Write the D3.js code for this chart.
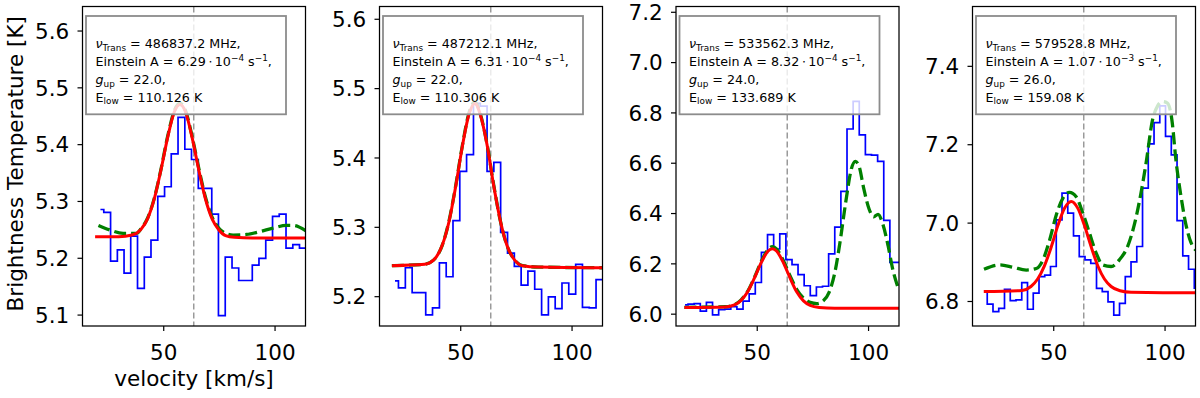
<!DOCTYPE html>
<html><head><meta charset="utf-8">
<script src="https://cdn.jsdelivr.net/npm/d3@7"></script>
<style>
html,body{margin:0;padding:0;background:#fff;}
svg{display:block;font-family:"DejaVu Sans",sans-serif;}
</style></head><body>
<svg id="chart" width="1200" height="398"></svg>
<script>
// ---------- data ----------
const xTicks = [50, 100];
const systemicV = 63.7;

// panel 1
const chanV1 = [21.8, 24.8, 27.9, 30.9, 33.9, 36.9, 40.0, 43.0, 46.0, 49.1, 52.1, 55.1, 58.2, 61.2, 64.2, 67.3, 70.3, 73.3, 76.3, 79.4, 82.4, 85.4, 88.5, 91.5, 94.5, 97.6, 100.6, 103.6, 106.7, 109.7, 112.7, 115.7];
const obsT1 = [5.285, 5.280, 5.194, 5.214, 5.173, 5.238, 5.146, 5.201, 5.231, 5.308, 5.325, 5.383, 5.447, 5.391, 5.373, 5.322, 5.322, 5.277, 5.098, 5.201, 5.182, 5.160, 5.160, 5.187, 5.199, 5.231, 5.273, 5.277, 5.217, 5.223, 5.217, 5.217];
const fitV1 = [19.4, 30, 36, 40, 43, 46, 49, 52, 55, 57.5, 60, 63, 66, 69, 72, 75, 78, 82, 90, 114];
const fitT1 = [5.237, 5.237, 5.240, 5.250, 5.269, 5.304, 5.355, 5.412, 5.457, 5.470, 5.457, 5.411, 5.354, 5.303, 5.268, 5.249, 5.239, 5.236, 5.235, 5.235];
const modV1 = [20.9, 26, 32, 38, 40, 43, 46, 49, 52, 55, 57.5, 60, 63, 66, 69, 72, 75, 78, 81.4, 87.4, 93.3, 99.3, 105.3, 108.2, 114.2];
const modT1 = [5.257, 5.249, 5.243, 5.243, 5.251, 5.270, 5.305, 5.356, 5.414, 5.459, 5.472, 5.459, 5.413, 5.357, 5.306, 5.271, 5.252, 5.243, 5.240, 5.241, 5.246, 5.252, 5.257, 5.257, 5.247];
const yTicks1 = [5.1, 5.2, 5.3, 5.4, 5.5, 5.6];

// panel 2
const chanV2 = [20.7, 23.8, 26.9, 29.9, 33.0, 36.0, 39.1, 42.2, 45.2, 48.3, 51.3, 54.4, 57.5, 60.5, 63.6, 66.6, 69.7, 72.8, 75.8, 78.9, 81.9, 85.0, 88.1, 91.1, 94.2, 97.2, 100.3, 103.4, 106.4, 109.5, 112.5, 115.6];
const obsT2 = [5.222, 5.212, 5.241, 5.205, 5.205, 5.173, 5.183, 5.248, 5.228, 5.309, 5.380, 5.404, 5.478, 5.474, 5.380, 5.393, 5.292, 5.262, 5.243, 5.216, 5.236, 5.210, 5.173, 5.199, 5.182, 5.219, 5.203, 5.246, 5.184, 5.183, 5.224, 5.224];
const fitV2 = [19.3, 34, 38, 42, 45, 48, 51, 54, 56.6, 59, 62, 65, 68, 71, 74, 78, 85, 114];
const fitT2 = [5.244, 5.246, 5.252, 5.274, 5.308, 5.359, 5.417, 5.463, 5.478, 5.462, 5.419, 5.360, 5.309, 5.273, 5.254, 5.244, 5.242, 5.241];
const modV2 = [19.3, 34, 38, 42, 45, 48, 51, 54, 56.6, 59, 62, 65, 68, 71, 74, 78, 85, 114];
const modT2 = [5.244, 5.246, 5.252, 5.274, 5.309, 5.360, 5.418, 5.465, 5.480, 5.463, 5.420, 5.361, 5.309, 5.273, 5.254, 5.244, 5.242, 5.241];
const yTicks2 = [5.2, 5.3, 5.4, 5.5, 5.6];

// panel 3
const chanV3 = [17.8, 20.5, 23.3, 26.0, 28.8, 31.5, 34.3, 37.0, 39.7, 42.5, 45.2, 48.0, 50.7, 53.5, 56.2, 59.0, 61.7, 64.5, 67.2, 69.9, 72.7, 75.4, 78.2, 80.9, 83.7, 86.4, 89.2, 91.9, 94.7, 97.4, 100.2, 102.9, 105.7, 108.4, 111.2, 113.9];
const obsT3 = [6.035, 6.038, 6.040, 6.010, 6.045, 5.995, 6.016, 6.018, 6.028, 6.018, 6.050, 6.079, 6.124, 6.244, 6.314, 6.257, 6.317, 6.215, 6.195, 6.155, 6.111, 6.072, 6.106, 6.109, 6.238, 6.344, 6.486, 6.734, 6.844, 6.711, 6.632, 6.630, 6.605, 6.371, 6.204, 6.204];
const fitV3 = [17.5, 36, 40, 43, 46, 49, 52, 55, 57, 59, 62, 65, 68, 71, 74, 78, 85, 114];
const fitT3 = [6.025, 6.027, 6.035, 6.053, 6.088, 6.142, 6.203, 6.248, 6.258, 6.248, 6.202, 6.141, 6.086, 6.051, 6.033, 6.025, 6.022, 6.022];
const modV3 = [17.5, 36, 40, 43, 46, 49, 52, 55, 57, 59, 62, 65, 68, 71, 74, 77, 80, 82.5, 85, 87.5, 90, 92.5, 94.3, 96, 98, 100.5, 102.5, 104.5, 106.5, 109, 111, 113.8];
const modT3 = [6.025, 6.028, 6.036, 6.055, 6.090, 6.145, 6.207, 6.254, 6.266, 6.256, 6.210, 6.150, 6.096, 6.062, 6.045, 6.040, 6.052, 6.085, 6.160, 6.290, 6.445, 6.575, 6.605, 6.585, 6.500, 6.415, 6.385, 6.395, 6.360, 6.270, 6.180, 6.095];
const yTicks3 = [6.0, 6.2, 6.4, 6.6, 6.8, 7.0, 7.2];

// panel 4
const chanV4 = [19.07, 21.65, 24.24, 26.82, 29.40, 31.99, 34.57, 37.15, 39.74, 42.32, 44.90, 47.49, 50.07, 52.65, 55.24, 57.82, 60.40, 62.98, 65.57, 68.15, 70.73, 73.32, 75.90, 78.48, 81.07, 83.65, 86.23, 88.82, 91.40, 93.98, 96.57, 99.15, 101.73, 104.32, 106.90, 109.48, 112.07, 114.65];
const obsT4 = [6.824, 6.792, 6.773, 6.781, 6.830, 6.801, 6.803, 6.847, 6.779, 6.820, 6.862, 6.866, 6.888, 7.007, 7.075, 7.024, 6.966, 6.913, 6.905, 6.896, 6.832, 6.824, 6.798, 6.764, 6.794, 6.862, 6.900, 6.939, 7.088, 7.201, 7.255, 7.298, 7.220, 7.173, 7.005, 6.915, 6.881, 6.833];
const fitV4 = [18.8, 36, 40, 43, 46, 49, 52, 55, 58.1, 61, 64, 67, 70, 73, 76, 80, 85, 114];
const fitT4 = [6.824, 6.827, 6.837, 6.856, 6.889, 6.936, 6.991, 7.036, 7.054, 7.037, 6.993, 6.939, 6.890, 6.856, 6.837, 6.826, 6.822, 6.821];
const modV4 = [18.9, 26.0, 31.9, 37.9, 42.4, 45.4, 48.4, 51.4, 54.3, 57.3, 60.3, 63.3, 66.3, 69.3, 72.2, 76.0, 79.7, 83.4, 86.4, 89.4, 91.7, 94.6, 96.9, 99.1, 101.3, 103.3, 105.1, 107.3, 109.6, 111.8, 114.0];
const modT4 = [6.881, 6.892, 6.886, 6.879, 6.883, 6.905, 6.956, 7.020, 7.062, 7.077, 7.066, 7.024, 6.973, 6.922, 6.892, 6.888, 6.905, 6.939, 6.994, 7.075, 7.152, 7.262, 7.298, 7.309, 7.305, 7.262, 7.160, 7.070, 6.995, 6.950, 6.930];
const yTicks4 = [6.8, 7.0, 7.2, 7.4];

// legend texts
const nuTrans = ["486837.2", "487212.1", "533562.3", "579528.8"];
const einsteinMant = ["6.29", "6.31", "8.32", "1.07"];
const einsteinExp = ["\u22124", "\u22124", "\u22124", "\u22123"];
const gUp = ["22.0", "22.0", "24.0", "26.0"];
const eLow = ["110.126", "110.306", "133.689", "159.08"];

const xLabel = "velocity [km/s]";
const yLabel = "Brightness Temperature [K]";

// ---------- layout ----------
const panelLeft = [82.5, 379.5, 676, 972.5];
const panelW = 223, plotTop = 6.5, plotBottom = 326;
const xDomain = [13.74, 113.9];
const yDomains = [[5.0799, 5.6423], [5.157, 5.6177], [5.951, 7.221], [6.7362, 7.5514]];
const tickFont = 21.5, legFont = 12.7;

const panels = [
  {chanV: chanV1, obsT: obsT1, fitV: fitV1, fitT: fitT1, modV: modV1, modT: modT1, yTicks: yTicks1},
  {chanV: chanV2, obsT: obsT2, fitV: fitV2, fitT: fitT2, modV: modV2, modT: modT2, yTicks: yTicks2},
  {chanV: chanV3, obsT: obsT3, fitV: fitV3, fitT: fitT3, modV: modV3, modT: modT3, yTicks: yTicks3},
  {chanV: chanV4, obsT: obsT4, fitV: fitV4, fitT: fitT4, modV: modV4, modT: modT4, yTicks: yTicks4}
];

const svg = d3.select("#chart");
const defs = svg.append("defs");

panels.forEach((p, i) => {
  const L = panelLeft[i];
  const x = d3.scaleLinear().domain(xDomain).range([L, L + panelW]);
  const y = d3.scaleLinear().domain(yDomains[i]).range([plotBottom, plotTop]);
  const g = svg.append("g");

  defs.append("clipPath").attr("id", "clip" + i)
    .append("rect").attr("x", L).attr("y", plotTop).attr("width", panelW).attr("height", plotBottom - plotTop);
  const plot = g.append("g").attr("clip-path", `url(#clip${i})`);

  // systemic velocity line
  plot.append("line")
    .attr("x1", x(systemicV)).attr("x2", x(systemicV))
    .attr("y1", plotTop).attr("y2", plotBottom)
    .attr("stroke", "#9a9a9a").attr("stroke-width", 1.5).attr("stroke-dasharray", "6,3");

  const obs = p.chanV.map((v, k) => [v, p.obsT[k]]);
  const mod = p.modV.map((v, k) => [v, p.modT[k]]);
  const fit = p.fitV.map((v, k) => [v, p.fitT[k]]);

  plot.append("path").datum(obs)
    .attr("d", d3.line().curve(d3.curveStep).x(d => x(d[0])).y(d => y(d[1])))
    .attr("fill", "none").attr("stroke", "#0000ff").attr("stroke-width", 1.7);
  plot.append("path").datum(mod)
    .attr("d", d3.line().curve(d3.curveMonotoneX).x(d => x(d[0])).y(d => y(d[1])))
    .attr("fill", "none").attr("stroke", "#008000").attr("stroke-width", 3.3).attr("stroke-dasharray", "12,5");
  plot.append("path").datum(fit)
    .attr("d", d3.line().curve(d3.curveMonotoneX).x(d => x(d[0])).y(d => y(d[1])))
    .attr("fill", "none").attr("stroke", "#ff0000").attr("stroke-width", 3);

  // axes
  const ax = g.append("g").attr("transform", `translate(0,${plotBottom})`)
    .call(d3.axisBottom(x).tickValues(xTicks).tickSize(5).tickSizeOuter(0).tickFormat(d3.format("d")));
  ax.select(".domain").remove();
  ax.selectAll("text").attr("font-size", tickFont).attr("font-family", "DejaVu Sans")
    .attr("fill", "#000").attr("y", 34).attr("dy", null);
  ax.selectAll("line").attr("stroke", "#000").attr("stroke-width", 1.2);

  const ay = g.append("g").attr("transform", `translate(${L},0)`)
    .call(d3.axisLeft(y).tickValues(p.yTicks).tickSize(5).tickPadding(8.3).tickSizeOuter(0).tickFormat(d3.format(".1f")));
  ay.select(".domain").remove();
  ay.selectAll("text").attr("font-size", tickFont).attr("font-family", "DejaVu Sans")
    .attr("fill", "#000").attr("dy", "0.36em");
  ay.selectAll("line").attr("stroke", "#000").attr("stroke-width", 1.2);

  // frame
  g.append("rect").attr("x", L).attr("y", plotTop).attr("width", panelW).attr("height", plotBottom - plotTop)
    .attr("fill", "none").attr("stroke", "#000").attr("stroke-width", 1.25);

  // legend box (drawn on top, semi-transparent)
  const lx = L + 3.5, ly = 16;
  g.append("rect").attr("x", lx).attr("y", ly).attr("width", 200).attr("height", 98.3)
    .attr("fill", "#fff").attr("fill-opacity", 0.8)
    .attr("stroke", "#8c8c8c").attr("stroke-width", 1.8);

  const lines = [
    [{t: "\u03bd", it: true}, {t: "Trans", sub: true}, {t: " = " + nuTrans[i] + " MHz,"}],
    [{t: "Einstein A = " + einsteinMant[i] + "\u2009\u22c5\u200910"}, {t: einsteinExp[i], sup: true}, {t: " s"}, {t: "\u22121", sup: true}, {t: ","}],
    [{t: "g", it: true}, {t: "up", sub: true}, {t: " = " + gUp[i] + ","}],
    [{t: "E"}, {t: "low", sub: true}, {t: " = " + eLow[i] + " K"}]
  ];
  const baselines = [48, 66, 84, 101.5];
  lines.forEach((segs, li) => {
    const t = g.append("text").attr("x", lx + 9.5).attr("y", baselines[li])
      .attr("font-size", legFont).attr("fill", "#000");
    let off = 0;
    segs.forEach(s => {
      const target = s.sub ? 2.6 : (s.sup ? -4.6 : 0);
      const ts = t.append("tspan").text(s.t).attr("dy", target - off);
      off = target;
      if (s.it) ts.attr("font-style", "italic");
      if (s.sub || s.sup) ts.attr("font-size", legFont * 0.7);
    });
  });
});

// axis labels
svg.append("text").attr("x", panelLeft[0] + panelW / 2).attr("y", 386)
  .attr("text-anchor", "middle").attr("font-size", tickFont).attr("fill", "#000").text(xLabel);
svg.append("text").attr("transform", `translate(22.7,${(plotTop + plotBottom) / 2 - 2.5}) rotate(-90)`)
  .attr("text-anchor", "middle").attr("font-size", tickFont).attr("fill", "#000").text(yLabel);
</script>
</body></html>
